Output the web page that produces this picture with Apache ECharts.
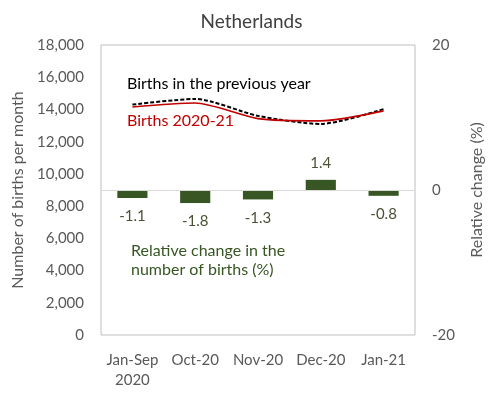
<!DOCTYPE html>
<html><head><meta charset="utf-8">
<script src="https://cdn.jsdelivr.net/npm/echarts@6/dist/echarts.min.js"></script>
<style>html,body{margin:0;padding:0;background:#fff}#c{width:503px;height:399px}</style>
</head><body><div id="c"></div>
<script>
var categories = ['Jan-Sep\n2020', 'Oct-20', 'Nov-20', 'Dec-20', 'Jan-21'];
var birthsPrevYear = [14300, 14650, 13600, 13100, 14020];
var births2021 = [14150, 14400, 13430, 13290, 13910];
var relChange = [-1.1, -1.8, -1.3, 1.4, -0.8];
var leftTicks = [0, 2000, 4000, 6000, 8000, 10000, 12000, 14000, 16000, 18000];
var rightTicks = [-20, 0, 20];

var FONT = 'Lato';
var chart = echarts.init(document.getElementById('c'), null, {renderer: 'canvas'});
chart.setOption({
  animation: false,
  backgroundColor: '#fff',
  textStyle: {fontFamily: FONT},
  title: {text: 'Netherlands', left: 'center', top: 7,
    textStyle: {fontFamily: FONT, fontSize: 19, fontWeight: 'normal', color: '#404040'}},
  grid: {left: 101, right: 88, top: 45, bottom: 64, show: true, borderColor: '#bfbfbf', borderWidth: 1, backgroundColor: 'transparent'},
  xAxis: {type: 'category', data: categories,
    axisLine: {show: false}, axisTick: {show: false},
    axisLabel: {color: '#595959', fontSize: 15, fontFamily: FONT, margin: 15, lineHeight: 20, interval: 0}},
  yAxis: [
    {type: 'value', min: leftTicks[0], max: leftTicks[leftTicks.length-1], interval: 2000,
      name: 'Number of births per month', nameLocation: 'middle', nameGap: 66, nameRotate: 90,
      nameTextStyle: {color: '#595959', fontSize: 16, fontFamily: FONT},
      axisLine: {show: false}, axisTick: {show: false}, splitLine: {show: false},
      axisLabel: {color: '#595959', fontSize: 15, fontFamily: FONT, margin: 17,
        formatter: function(v){ return v.toLocaleString('en-US'); }}},
    {type: 'value', min: rightTicks[0], max: rightTicks[rightTicks.length-1], interval: 20, position: 'right',
      name: 'Relative change (%)', nameLocation: 'middle', nameGap: 54, nameRotate: 90,
      nameTextStyle: {color: '#595959', fontSize: 16, fontFamily: FONT},
      axisLine: {show: false}, axisTick: {show: false}, splitLine: {show: false},
      axisLabel: {color: '#595959', fontSize: 15, fontFamily: FONT, margin: 17}}
  ],
  series: [
    {type: 'bar', name: 'Relative change', yAxisIndex: 1, barWidth: '48%',
      data: relChange.map(function(v){
        return {value: v, label: {position: v < 0 ? 'bottom' : 'top', distance: v < 0 ? 11 : 9}};
      }),
      itemStyle: {color: '#375623'},
      label: {show: true, color: '#4a5236', fontSize: 15, fontFamily: FONT,
        formatter: function(p){ return p.value.toFixed(1); }},
      markLine: {silent: true, symbol: 'none', label: {show: false},
        lineStyle: {color: '#d9d9d9', type: 'solid', width: 1},
        data: [{yAxis: 0}]}},
    {type: 'line', name: 'Births in the previous year', data: birthsPrevYear, smooth: 0.25,
      symbol: 'none', lineStyle: {color: '#000', width: 2, type: [4, 2]}, z: 3},
    {type: 'line', name: 'Births 2020-21', data: births2021, smooth: 0.25,
      symbol: 'none', lineStyle: {color: '#c00000', width: 1.6}, z: 4}
  ],
  graphic: [
    {type: 'text', left: 127, top: 76, style: {text: 'Births in the previous year', fill: '#000', font: '16px ' + FONT}},
    {type: 'text', left: 127, top: 113, style: {text: 'Births 2020-21', fill: '#c00000', font: '16px ' + FONT}},
    {type: 'text', left: 131, top: 241, style: {text: 'Relative change in the\nnumber of births (%)', fill: '#375623', font: '16px ' + FONT, lineHeight: 19}}
  ]
});
</script></body></html>
